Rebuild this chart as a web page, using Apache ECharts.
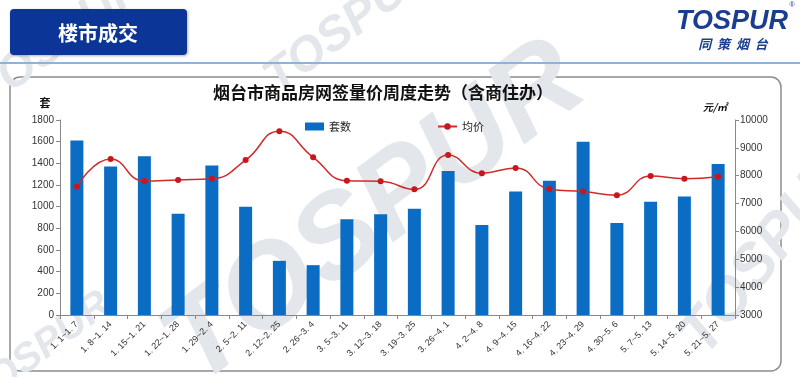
<!DOCTYPE html>
<html><head><meta charset="utf-8">
<script src="https://cdn.jsdelivr.net/npm/echarts@6/dist/echarts.min.js"></script>
<style>html,body{margin:0;padding:0;background:#fff}#c{width:800px;height:377px}</style>
</head><body><div id="c"></div>
<script>
const categories = ['1. 1~1. 7','1. 8~1. 14','1. 15~1. 21','1. 22~1. 28','1. 29~2. 4','2. 5~2. 11','2. 12~2. 25','2. 26~3. 4','3. 5~3. 11','3. 12~3. 18','3. 19~3. 25','3. 26~4. 1','4. 2~4. 8','4. 9~4. 15','4. 16~4. 22','4. 23~4. 29','4. 30~5. 6','5. 7~5. 13','5. 14~5. 20','5. 21~5. 27'];
const units = [1610,1370,1465,935,1380,1000,500,460,885,930,980,1330,830,1140,1240,1600,850,1045,1095,1395];
const avgPrice = [7610,8600,7810,7850,7890,8560,9600,8660,7820,7800,7510,8740,8090,8280,7520,7430,7300,7990,7890,7965];
const leftTicks = {min:0,max:1800,interval:200};
const rightTicks = {min:3000,max:10000,interval:1000};

const chart = echarts.init(document.getElementById('c'));
const wmColor = '#e3e7eb';
function wm(x,y,size,rot){
  return {type:'text',x:x,y:y,rotation:rot,z:-5,silent:true,
    style:{text:'TOSPUR',fontSize:size,fontWeight:'bold',fontStyle:'italic',fontFamily:'Liberation Sans, Arial',fill:wmColor,align:'center',verticalAlign:'middle'}};
}
chart.setOption({
  animation:false,
  backgroundColor:'#fff',
  title:{text:'烟台市商品房网签量价周度走势（含商住办）',left:378,textAlign:'center',top:79,z:10,
    textStyle:{fontSize:17,fontWeight:'bold',color:'#111',fontFamily:'Noto Sans CJK SC'}},
  legend:{left:300,top:116,itemWidth:19,itemHeight:8,itemGap:86,
    textStyle:{fontSize:11,color:'#222',fontFamily:'Noto Sans CJK SC'},
    data:[{name:'套数',icon:'rect'},{name:'均价'}]},
  grid:{left:60,right:65,top:120,bottom:62,containLabel:false},
  xAxis:{type:'category',data:categories,
    axisLine:{lineStyle:{color:'#888',width:1}},
    axisTick:{show:true,alignWithLabel:false,lineStyle:{color:'#888'},length:4},
    axisLabel:{rotate:45,fontSize:9,color:'#333',interval:0,margin:8,fontFamily:'Liberation Sans'}},
  yAxis:[
    {type:'value',min:leftTicks.min,max:leftTicks.max,interval:leftTicks.interval,position:'left',
     axisLine:{show:true,lineStyle:{color:'#888'}},axisTick:{show:true,length:4,lineStyle:{color:'#888'}},
     splitLine:{show:false},axisLabel:{fontSize:10,color:'#333',margin:6,fontFamily:'Liberation Sans',formatter:v=>String(v)}},
    {type:'value',min:rightTicks.min,max:rightTicks.max,interval:rightTicks.interval,position:'right',
     axisLine:{show:true,lineStyle:{color:'#888'}},axisTick:{show:true,length:4,lineStyle:{color:'#888'}},
     splitLine:{show:false},axisLabel:{fontSize:10,color:'#333',margin:5,fontFamily:'Liberation Sans',formatter:v=>String(v)}}
  ],
  series:[
    {name:'套数',type:'bar',data:units,barWidth:13,itemStyle:{color:'#0a6cc2'},z:2},
    {name:'均价',type:'line',yAxisIndex:1,data:avgPrice,smooth:0.5,symbol:'circle',symbolSize:6,
     lineStyle:{color:'#d12a2a',width:1.5},itemStyle:{color:'#c8161d'},z:3}
  ],
  graphic:[
    {type:'rect',z:-10,shape:{x:10,y:77,width:771,height:294,r:10},style:{fill:'#fff',stroke:'#8c8c8c',lineWidth:1.5}},
    wm(375,215,118,0.64),
    wm(60,40,48,0.64),
    wm(350,25,48,0.64),
    wm(770,250,60,0.9),
    wm(40,350,40,0.64),
    {type:'rect',z:5,shape:{x:0,y:62,width:800,height:2},style:{fill:'#92b2d4'}},
    {type:'rect',z:5,shape:{x:10,y:9,width:177,height:46,r:4},style:{fill:'#0b3596',shadowBlur:3,shadowColor:'rgba(0,0,0,0.3)',shadowOffsetX:1,shadowOffsetY:1}},
    {type:'text',z:6,x:98,y:33,style:{text:'楼市成交',fontSize:20,fontWeight:'bold',fill:'#fff',align:'center',verticalAlign:'middle',fontFamily:'Noto Sans CJK SC'}},
    {type:'text',z:6,x:732,y:22,style:{text:'TOSPUR',fontSize:27,fontWeight:'bold',fontStyle:'italic',fill:'#1b3d8f',align:'center',verticalAlign:'middle',fontFamily:'Liberation Sans'}},
    {type:'text',z:6,x:792,y:5,style:{text:'®',fontSize:7,fill:'#1b3d8f',align:'center',verticalAlign:'middle'}},
    {type:'text',z:6,x:733,y:44,style:{text:'同  策  烟  台',fontSize:13,fontWeight:'bold',fontStyle:'italic',fill:'#1b3d8f',align:'center',verticalAlign:'middle',fontFamily:'Noto Sans CJK SC'}},
    {type:'text',z:6,x:45,y:103,style:{text:'套',fontSize:11,fontWeight:'bold',fill:'#111',align:'center',verticalAlign:'middle',fontFamily:'Noto Sans CJK SC'}},
    {type:'text',z:6,x:715,y:107,style:{text:'元/㎡',fontSize:10,fontWeight:'bold',fontStyle:'italic',fill:'#111',align:'center',verticalAlign:'middle',fontFamily:'Noto Sans CJK SC'}}
  ]
});
</script></body></html>
